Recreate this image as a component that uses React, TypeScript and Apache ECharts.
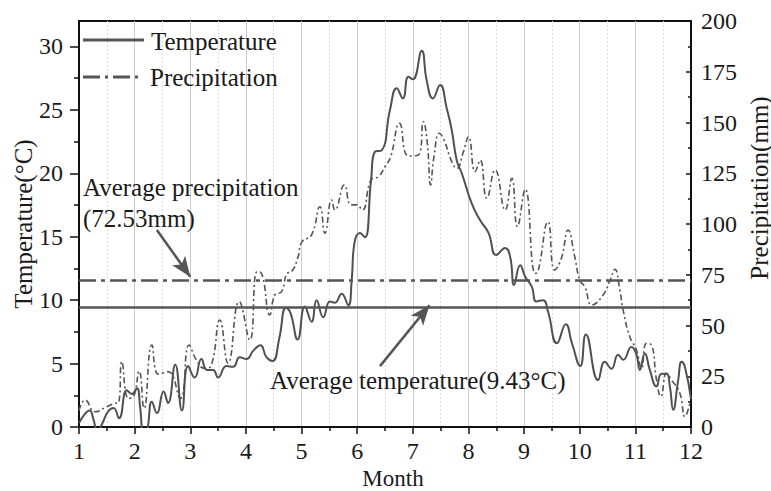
import React, { useEffect, useRef } from "react";
import * as echarts from "echarts";

const monthTicks = [1, 2, 3, 4, 5, 6, 7, 8, 9, 10, 11, 12];
const tempTicks = [0, 5, 10, 15, 20, 25, 30];
const tempMinorTicks = [2.5, 7.5, 12.5, 17.5, 22.5, 27.5];
const avgTemperature = 9.43;
const avgPrecipitation = 72.53;

const temperature: [number, number][] = [
  [1.0, 0.3], [1.1, 1.0], [1.19, 1.3], [1.26, 0.6], [1.33, -0.4], [1.42, 0.3], [1.52, 1.2],
  [1.62, 1.5], [1.72, 0.7], [1.86, 2.9], [1.95, 2.6], [2.04, 3.05], [2.1, 1.5], [2.16, -0.6],
  [2.22, -0.4], [2.31, 2.0], [2.4, 1.1], [2.52, 2.8], [2.6, 1.9], [2.73, 4.9], [2.85, 1.3],
  [2.96, 4.8], [3.08, 3.9], [3.2, 5.35], [3.3, 4.5], [3.41, 4.5], [3.5, 3.9], [3.65, 4.8],
  [3.77, 4.75], [3.89, 5.5], [4.01, 5.35], [4.13, 6.0], [4.26, 6.45], [4.37, 5.5], [4.48, 5.2],
  [4.6, 7.0], [4.72, 9.4], [4.8, 9.0], [4.93, 6.9], [5.06, 9.5], [5.18, 8.3], [5.27, 10.0],
  [5.39, 8.65], [5.51, 9.9], [5.6, 9.8], [5.72, 10.5], [5.84, 9.6], [5.9, 11.5], [5.95, 14.5],
  [6.05, 15.3], [6.14, 14.95], [6.25, 19.5], [6.32, 21.7], [6.44, 21.8], [6.59, 25.0],
  [6.71, 26.7], [6.82, 25.9], [6.92, 27.6], [7.0, 27.4], [7.16, 29.65], [7.25, 27.3],
  [7.36, 25.9], [7.49, 26.95], [7.61, 25.1], [7.7, 23.4], [7.79, 21.0], [7.88, 20.0],
  [8.06, 17.6], [8.21, 16.3], [8.36, 15.3], [8.5, 13.55], [8.66, 14.1], [8.75, 13.4],
  [8.82, 11.2], [8.93, 12.75], [9.02, 11.85], [9.14, 11.05], [9.22, 9.9], [9.34, 10.0],
  [9.43, 9.1], [9.59, 6.6], [9.75, 8.1], [9.86, 6.6], [10.01, 4.8], [10.11, 7.3],
  [10.33, 3.7], [10.45, 5.15], [10.57, 4.6], [10.69, 5.7], [10.78, 5.3], [10.93, 6.3],
  [11.02, 5.7], [11.08, 4.5], [11.17, 5.8], [11.26, 4.5], [11.38, 3.2], [11.47, 4.2],
  [11.56, 4.2], [11.62, 3.2], [11.68, 1.35], [11.77, 3.7], [11.83, 5.15], [11.89, 4.75],
  [12.0, 2.2],
];

const precipitation: [number, number][] = [
  [1.0, 8], [1.11, 13.3], [1.29, 7.5], [1.5, 10], [1.65, 11.7], [1.71, 12], [1.77, 32.2],
  [1.89, 14.1], [1.98, 15], [2.08, 27.6], [2.17, 9.2], [2.31, 40.4], [2.43, 26], [2.6, 27.3],
  [2.82, 14.1], [2.98, 40.4], [3.11, 33], [3.26, 28.9], [3.38, 30.5], [3.53, 52.7],
  [3.68, 31.4], [3.88, 61.7], [4.07, 42.9], [4.2, 76.5], [4.28, 75.7], [4.43, 55.2],
  [4.52, 65], [4.64, 66.7], [4.74, 75.7], [4.82, 76.5], [4.93, 83.1], [5.01, 91.3],
  [5.18, 94.6], [5.33, 108.5], [5.42, 95.4], [5.54, 111.8], [5.6, 106.9], [5.77, 119.2],
  [5.89, 109.4], [5.99, 109.4], [6.09, 106.9], [6.25, 121.7], [6.38, 123.3], [6.5, 128.2],
  [6.6, 133], [6.76, 149.6], [6.92, 133.5], [7.1, 134], [7.19, 150.4], [7.26, 139.8],
  [7.32, 119.2], [7.38, 133.2], [7.48, 144.7], [7.56, 141.4], [7.7, 130.7], [7.79, 127.4],
  [7.91, 135.6], [8.0, 143], [8.12, 125.8], [8.21, 131.5], [8.33, 112.7], [8.48, 126.6],
  [8.66, 106.9], [8.78, 122.5], [8.88, 98.7], [9.02, 117.1], [9.2, 75.7], [9.25, 76.5],
  [9.43, 101.1], [9.55, 77.3], [9.67, 83.1], [9.79, 97], [9.91, 83.9], [10.0, 72.4],
  [10.09, 69.1], [10.22, 60.1], [10.42, 65], [10.54, 72], [10.63, 77.7], [10.72, 67.5],
  [10.78, 57.6], [10.9, 44.5], [11.02, 37.9], [11.11, 28.9], [11.2, 41.2], [11.29, 40.4],
  [11.38, 23.2], [11.46, 15], [11.56, 26.5], [11.65, 23.2], [11.8, 16.6], [11.89, 5.1],
  [11.98, 11.7],
];

const tempArrow: [number, number][] = [[6.41, 4.8], [7.3, 9.6]];
const precipArrow: [number, number][] = [[2.4, 97], [3.0, 74]];

const FONT = "Liberation Serif";
const INK = "#1a1a1a";
const LINE = "#555555";

export default function App() {
  const ref = useRef<HTMLDivElement>(null);
  useEffect(() => {
    if (!ref.current) return;
    const chart = echarts.init(ref.current, undefined, { renderer: "svg" });
    const textStyle = (text: string, size = 25) => ({
      text,
      fill: INK,
      fontFamily: FONT,
      fontSize: size,
      textVerticalAlign: "middle",
    });
    const axisLabelStyle = { fontFamily: FONT, fontSize: 24, color: INK };
    chart.setOption({
      animation: false,
      backgroundColor: "#ffffff",
      textStyle: { fontFamily: FONT },
      grid: {
        left: 79,
        right: 80,
        top: 21,
        bottom: 64,
        show: true,
        borderColor: "#111",
        borderWidth: 1.8,
        backgroundColor: "transparent",
      },
      xAxis: {
        type: "value",
        min: monthTicks[0],
        max: monthTicks[monthTicks.length - 1],
        interval: 1,
        axisLine: { show: true, onZero: false, lineStyle: { color: "#111", width: 2 } },
        axisTick: { show: true, length: 7, lineStyle: { color: "#111", width: 1.5 } },
        minorTick: { show: true, splitNumber: 2, length: 4, lineStyle: { color: "#111", width: 1.5 } },
        axisLabel: { ...axisLabelStyle, margin: 12 },
        splitLine: { show: true, lineStyle: { color: "#cccccc", width: 1 } },
        minorSplitLine: { show: true, lineStyle: { color: "#dddddd", width: 1, type: [2, 2] } },
      },
      yAxis: [
        {
          type: "value",
          position: "left",
          min: 0,
          max: 32,
          axisLine: { show: true, onZero: false, lineStyle: { color: "#111", width: 2 } },
          axisTick: { show: true, length: 9, customValues: tempTicks, lineStyle: { color: "#111", width: 1.5 } },
          axisLabel: { ...axisLabelStyle, customValues: tempTicks, margin: 16 },
          splitLine: { show: false },
        },
        {
          type: "value",
          position: "right",
          min: 0,
          max: 200,
          interval: 25,
          axisLine: { show: true, onZero: false, lineStyle: { color: "#111", width: 2 } },
          axisTick: { show: true, inside: true, length: 5, lineStyle: { color: "#111", width: 1.5 } },
          minorTick: { show: true, splitNumber: 2, length: 3, lineStyle: { color: "#111", width: 1.5 } },
          axisLabel: { ...axisLabelStyle, margin: 10 },
          splitLine: { show: false },
        },
        {
          type: "value",
          position: "left",
          min: 0,
          max: 32,
          axisLine: { show: false },
          axisTick: { show: true, length: 5, customValues: tempMinorTicks, lineStyle: { color: "#111", width: 1.5 } },
          axisLabel: { show: false },
          splitLine: { show: false },
        },
      ],
      series: [
        {
          name: "Temperature",
          type: "line",
          yAxisIndex: 0,
          data: temperature,
          smooth: 0.5,
          showSymbol: false,
          lineStyle: { color: "#505050", width: 2 },
          z: 3,
          markLine: {
            silent: true,
            symbol: ["none", "none"],
            label: { show: false },
            data: [
              { yAxis: avgTemperature, lineStyle: { color: LINE, width: 2.5, type: "solid" } },
              [
                { coord: tempArrow[0], symbol: "none" },
                { coord: tempArrow[1], symbol: "arrow", symbolSize: [12, 20] },
              ],
            ],
            lineStyle: { color: LINE, width: 2.5, type: "solid" },
          },
        },
        {
          name: "Precipitation",
          type: "line",
          yAxisIndex: 1,
          data: precipitation,
          smooth: 0.5,
          showSymbol: false,
          lineStyle: { color: "#555555", width: 1.6, type: [6, 3, 2, 3] },
          z: 2,
          markLine: {
            silent: true,
            symbol: ["none", "none"],
            label: { show: false },
            data: [
              { yAxis: avgPrecipitation, lineStyle: { color: LINE, width: 2.5, type: [17, 5, 4, 5] } },
              [
                { coord: precipArrow[0], symbol: "none", lineStyle: { type: "solid" } },
                { coord: precipArrow[1], symbol: "arrow", symbolSize: [12, 20] },
              ],
            ],
            lineStyle: { color: LINE, width: 2.5, type: "solid" },
          },
        },
      ],
      graphic: [
        { type: "line", shape: { x1: 83, y1: 40, x2: 144, y2: 40 }, style: { stroke: LINE, lineWidth: 3 }, z: 10 },
        { type: "text", x: 151, y: 41, style: textStyle("Temperature"), z: 10 },
        {
          type: "line",
          shape: { x1: 83, y1: 77, x2: 143, y2: 77 },
          style: { stroke: LINE, lineWidth: 3, lineDash: [17, 5, 3, 5] },
          z: 10,
        },
        { type: "text", x: 150, y: 77, style: textStyle("Precipitation"), z: 10 },
        { type: "text", x: 83, y: 187, style: textStyle("Average precipitation"), z: 10 },
        { type: "text", x: 83, y: 218, style: textStyle("(72.53mm)"), z: 10 },
        { type: "text", x: 270, y: 380, style: textStyle("Average temperature(9.43°C)"), z: 10 },
        {
          type: "text",
          x: 23,
          y: 224,
          rotation: Math.PI / 2,
          style: { ...textStyle("Temperature(°C)"), textAlign: "center" },
          z: 10,
        },
        {
          type: "text",
          x: 759,
          y: 188,
          rotation: Math.PI / 2,
          style: { ...textStyle("Precipitation(mm)"), textAlign: "center" },
          z: 10,
        },
        { type: "text", x: 393, y: 478, style: { ...textStyle("Month", 23), textAlign: "center" }, z: 10 },
      ],
    });
    return () => chart.dispose();
  }, []);
  return (
    <div
      ref={ref}
      style={{ position: "fixed", left: 0, top: 0, width: 771, height: 491, background: "#fff" }}
    />
  );
}
